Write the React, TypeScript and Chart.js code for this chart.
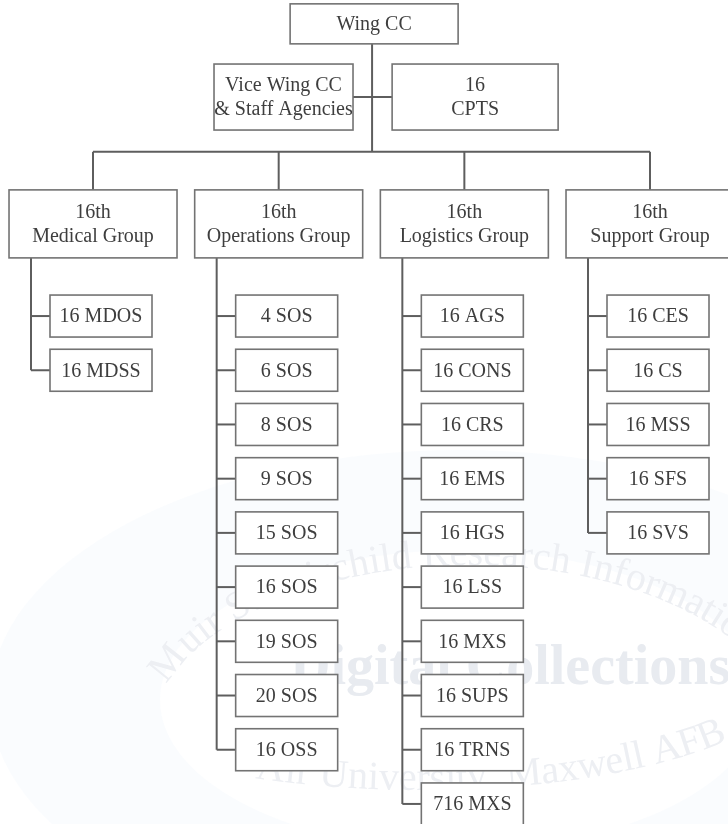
import React, { useEffect, useRef } from "react";
import { Chart, registerables } from "chart.js";

Chart.register(...registerables);

// ---- Data ----
const commander = "Wing CC";
const staffUnits = ["Vice Wing CC\n& Staff Agencies", "16\nCPTS"];
const groups = [
  "16th\nMedical Group",
  "16th\nOperations Group",
  "16th\nLogistics Group",
  "16th\nSupport Group",
];
const medicalUnits = ["16 MDOS", "16 MDSS"];
const operationsUnits = [
  "4 SOS", "6 SOS", "8 SOS", "9 SOS", "15 SOS", "16 SOS", "19 SOS", "20 SOS", "16 OSS",
];
const logisticsUnits = [
  "16 AGS", "16 CONS", "16 CRS", "16 EMS", "16 HGS", "16 LSS", "16 MXS", "16 SUPS", "16 TRNS", "716 MXS",
];
const supportUnits = ["16 CES", "16 CS", "16 MSS", "16 SFS", "16 SVS"];
const unitsByGroup = [medicalUnits, operationsUnits, logisticsUnits, supportUnits];

const watermarkTitle = "Digital Collections";
const watermarkTop = "Muir S. Fairchild Research Information";
const watermarkBottom = "Air University  Maxwell AFB, AL";

// layout positions in scale units (x = column, y = row)
const commanderPos = { x: 1.514, y: -5.39 };
const staffPos = [
  { x: 1.026, y: -4.04 },
  { x: 2.058, y: -4.04 },
];
const trunkX = 1.503;
const busRow = -3.03;
const groupRow = -1.7;

// ---- Styles ----
const FONT = '20px "Liberation Serif", "DejaVu Serif", serif';
const TEXT = "#3e3e3e";
const LINE = "#5e5e5e";
const BORDER = "#737373";
const LINE_H = 24;

const orgPlugin = {
  id: "orgchart",
  beforeDatasetsDraw(chart: any) {
    const ctx: CanvasRenderingContext2D = chart.ctx;
    ctx.save();
    // faint seal watermark
    ctx.fillStyle = "rgba(226,234,246,0.16)";
    ctx.beginPath();
    ctx.ellipse(460, 700, 470, 250, 0, 0, Math.PI * 2);
    ctx.ellipse(460, 700, 300, 150, 0, Math.PI * 2, 0, true);
    ctx.fill("evenodd");

    ctx.fillStyle = "#e8ebf0";
    ctx.font = 'bold 56px "Liberation Serif", serif';
    ctx.textAlign = "left";
    ctx.textBaseline = "alphabetic";
    ctx.fillText(watermarkTitle, 290, 684);

    const ellipseText = (
      s: string, cx: number, cy: number, a: number, b: number, t0: number, dir: number, font: string
    ) => {
      ctx.font = font;
      ctx.textAlign = "center";
      let t = t0;
      for (const ch of s) {
        const w = ctx.measureText(ch).width;
        const speed = Math.sqrt(a * a * Math.sin(t) ** 2 + b * b * Math.cos(t) ** 2);
        const mid = t + dir * (w / 2) / speed;
        const x = cx + a * Math.cos(mid);
        const y = cy + b * Math.sin(mid);
        const ang = dir > 0
          ? Math.atan2(b * Math.cos(mid), -a * Math.sin(mid))
          : Math.atan2(-b * Math.cos(mid), a * Math.sin(mid));
        ctx.save();
        ctx.translate(x, y);
        ctx.rotate(ang);
        ctx.fillText(ch, 0, 0);
        ctx.restore();
        t += dir * w / speed;
      }
    };
    ctx.fillStyle = "#edeff3";
    ellipseText(watermarkTop, 470, 740, 320, 175, Math.PI + 0.32, 1, '40px "Liberation Serif", serif');
    ellipseText(watermarkBottom, 420, 670, 380, 120, 2.02, -1, '40px "Liberation Serif", serif');
    ctx.restore();
  },
  afterDatasetsDraw(chart: any) {
    const ctx: CanvasRenderingContext2D = chart.ctx;
    const xs = chart.scales.x;
    const ys = chart.scales.y;
    const px = (v: number) => xs.getPixelForValue(v);
    const py = (v: number) => ys.getPixelForValue(v);
    const colW = px(1) - px(0);

    const line = (x1: number, y1: number, x2: number, y2: number) => {
      ctx.strokeStyle = LINE;
      ctx.lineWidth = 2;
      ctx.beginPath();
      ctx.moveTo(x1, y1);
      ctx.lineTo(x2, y2);
      ctx.stroke();
    };
    const box = (cx: number, cy: number, w: number, h: number, label: string) => {
      ctx.fillStyle = "#ffffff";
      ctx.fillRect(cx - w / 2, cy - h / 2, w, h);
      ctx.strokeStyle = BORDER;
      ctx.lineWidth = 1.6;
      ctx.strokeRect(cx - w / 2, cy - h / 2, w, h);
      const lines = label.split("\n");
      ctx.fillStyle = TEXT;
      ctx.font = FONT;
      ctx.textAlign = "center";
      ctx.textBaseline = "middle";
      lines.forEach((t, i) => {
        ctx.fillText(t, cx, cy + (i - (lines.length - 1) / 2) * LINE_H + 1);
      });
    };

    ctx.save();
    const cmdH = 40;
    line(px(trunkX), py(commanderPos.y) + cmdH / 2, px(trunkX), py(busRow));
    line(px(staffPos[0].x) + 69, py(staffPos[0].y), px(staffPos[1].x) - 83, py(staffPos[1].y));
    line(px(0), py(busRow), px(groups.length - 1), py(busRow));
    const gH = 68;
    groups.forEach((_, g) => {
      line(px(g), py(busRow), px(g), py(groupRow) - gH / 2);
    });
    box(px(commanderPos.x), py(commanderPos.y), 168, cmdH, commander);
    box(px(staffPos[0].x), py(staffPos[0].y), 139, 66, staffUnits[0]);
    box(px(staffPos[1].x), py(staffPos[1].y), 166, 66, staffUnits[1]);

    groups.forEach((label, g) => {
      const units = unitsByGroup[g];
      const spineX = px(g) - 0.334 * colW;
      const boxCx = px(g) + 0.043 * colW;
      const bw = 102;
      line(spineX, py(groupRow) + gH / 2, spineX, py(units.length - 1));
      units.forEach((u, i) => {
        line(spineX, py(i), boxCx - bw / 2, py(i));
        box(boxCx, py(i), bw, 42, u);
      });
      box(px(g), py(groupRow), 168, gH, label);
    });
    ctx.restore();
  },
};

export default function App() {
  const ref = useRef<HTMLCanvasElement | null>(null);
  useEffect(() => {
    document.body.style.margin = "0";
    if (!ref.current) return;
    const points: { x: number; y: number }[] = [];
    points.push(commanderPos);
    staffPos.forEach((p) => points.push(p));
    groups.forEach((_, g) => {
      points.push({ x: g, y: groupRow });
      unitsByGroup[g].forEach((_, i) => points.push({ x: g, y: i }));
    });
    const chart = new Chart(ref.current, {
      type: "scatter",
      data: {
        datasets: [
          {
            data: points,
            pointRadius: 0,
            pointHoverRadius: 0,
            backgroundColor: "transparent",
            borderColor: "transparent",
          },
        ],
      },
      options: {
        animation: false,
        responsive: false,
        events: [],
        layout: { padding: 0 },
        plugins: { legend: { display: false }, tooltip: { enabled: false } },
        scales: {
          x: { type: "linear", min: -0.501, max: 3.42, display: false },
          y: { type: "linear", min: -5.83, max: 9.37, reverse: true, display: false },
        },
      },
      plugins: [orgPlugin],
    });
    return () => chart.destroy();
  }, []);
  return (
    <div style={{ width: 728, height: 824, background: "#fff" }}>
      <canvas ref={ref} width={728} height={824} style={{ display: "block" }} />
    </div>
  );
}
